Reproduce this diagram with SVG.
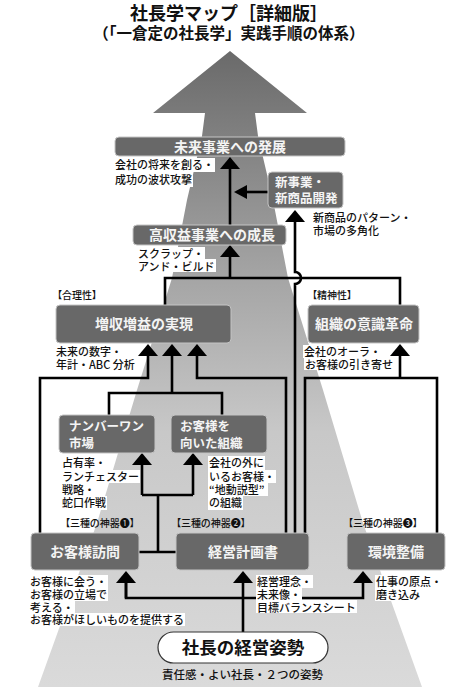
<svg xmlns="http://www.w3.org/2000/svg" width="458" height="700" viewBox="0 0 458 700">
<defs>
<linearGradient id="bg" x1="0" y1="51" x2="0" y2="687" gradientUnits="userSpaceOnUse">
<stop offset="0" stop-color="#6a6a6a"/>
<stop offset="0.35" stop-color="#a4a4a4"/>
<stop offset="0.6" stop-color="#c8c8c8"/>
<stop offset="1" stop-color="#dadada"/>
</linearGradient>
<marker id="ah" viewBox="0 0 12 20" refX="0" refY="10" markerWidth="12" markerHeight="20" markerUnits="userSpaceOnUse" orient="auto">
<path d="M0,0 L12,10 L0,20 Z" fill="#000"/>
</marker>
<marker id="ahs" viewBox="0 0 13 14" refX="0" refY="7" markerWidth="13" markerHeight="14" markerUnits="userSpaceOnUse" orient="auto">
<path d="M0,0 L13,7 L0,14 Z" fill="#000"/>
</marker>
</defs>
<style>
text{font-family:"Noto Sans CJK JP","Noto Sans",sans-serif;fill:#111}
.title{font-size:18px;font-weight:700}
.sub{font-size:15.5px;font-weight:700}
.box rect{fill:#686868;stroke:#c4c4c4;stroke-width:1}
.box text{fill:#f4f4f4;font-size:14px;font-weight:700}
.box text.sm{font-size:12.5px}
.lbl{font-size:11px;font-weight:500}
.brk{font-size:10px;font-weight:500;font-feature-settings:"palt"}
.bgw{fill:#fff}
.con path{fill:none;stroke:#000;stroke-width:2.6}
</style>
<rect width="458" height="700" fill="#fff"/>
<path d="M230,51 L307,113 L255,113 L258,136 L273,200 L288,278 L323,390 L363,523 L422,687 L38,687 L97,523 L137,390 L172,278 L187,200 L202,136 L205,113 L153,113 Z" fill="url(#bg)"/>
<text class="title" x="229" y="20" text-anchor="middle">社長学マップ［詳細版］</text>
<text class="sub" x="229" y="38.5" text-anchor="middle">（「一倉定の社長学」実践手順の体系）</text>
<g id="connectors" class="con">
<path d="M230,225 V169" marker-end="url(#ah)"/>
<path d="M268,192 H247" marker-end="url(#ahs)"/>
<path d="M295,533 V284 A6,6 0 0 0 295,272 V222" marker-end="url(#ah)"/>
<path d="M165,305 V278 H400 V305"/>
<path d="M230,278 V257" marker-end="url(#ah)"/>
<path d="M40,533 V378 H148 V356" marker-end="url(#ah)"/>
<path d="M109,415 V393 H222 V415"/>
<path d="M172,393 V356" marker-end="url(#ah)"/>
<path d="M286,533 V378 H197 V356" marker-end="url(#ah)"/>
<path d="M305,533 V378 H437 V533"/>
<path d="M400,378 V356" marker-end="url(#ah)"/>
<path d="M139,552 H176"/>
<path d="M158,552 V495"/>
<path d="M142,495 H193"/>
<path d="M142,495 V465" marker-end="url(#ah)"/>
<path d="M193,495 V465" marker-end="url(#ah)"/>
<path d="M243,632 V583" marker-end="url(#ah)"/>
<path d="M126,583 V598 H363 V583" marker-end="url(#ah)"/>
<path d="M126,598 V583" marker-end="url(#ah)"/>
</g>
<g id="labels">
<rect class="bgw" x="114" y="158" width="101" height="14"/>
<rect class="bgw" x="114" y="173" width="79" height="14"/>
<text class="lbl" x="115" y="169">会社の将来を創る・</text>
<text class="lbl" x="115" y="184">成功の波状攻撃</text>
<rect class="bgw" x="312" y="211" width="101" height="13"/>
<rect class="bgw" x="312" y="224" width="68" height="13"/>
<text class="lbl" x="313" y="222">新商品のパターン・</text>
<text class="lbl" x="313" y="235">市場の多角化</text>
<rect class="bgw" x="137" y="247" width="68" height="13"/>
<rect class="bgw" x="137" y="259" width="79" height="13"/>
<text class="lbl" x="138" y="258">スクラップ・</text>
<text class="lbl" x="138" y="270.5">アンド・ビルド</text>
<text class="brk" x="57" y="299">【合理性】</text>
<text class="brk" x="312" y="299">【精神性】</text>
<rect class="bgw" x="55" y="345" width="68" height="13"/>
<rect class="bgw" x="55" y="357" width="80" height="13"/>
<text class="lbl" x="56" y="356">未来の数字・</text>
<text class="lbl" x="56" y="368.5">年計・ABC 分析</text>
<rect class="bgw" x="303" y="345" width="79" height="13"/>
<rect class="bgw" x="304" y="357" width="90" height="13"/>
<text class="lbl" x="304" y="356">会社のオーラ・</text>
<text class="lbl" x="305" y="368.5">お客様の引き寄せ</text>
<rect class="bgw" x="61" y="456" width="46" height="14"/>
<rect class="bgw" x="61" y="470" width="79" height="13"/>
<rect class="bgw" x="61" y="483" width="35" height="13"/>
<rect class="bgw" x="61" y="496" width="46" height="14"/>
<text class="lbl" x="62" y="467">占有率・</text>
<text class="lbl" x="62" y="481">ランチェスター</text>
<text class="lbl" x="62" y="494">戦略・</text>
<text class="lbl" x="62" y="507">蛇口作戦</text>
<rect class="bgw" x="208" y="456" width="57" height="14"/>
<rect class="bgw" x="208" y="470" width="68" height="13"/>
<rect class="bgw" x="208" y="483" width="60" height="13"/>
<rect class="bgw" x="208" y="496" width="35" height="14"/>
<text class="lbl" x="209" y="467">会社の外に</text>
<text class="lbl" x="209" y="481">いるお客様・</text>
<text class="lbl" x="209" y="494">“地動説型”</text>
<text class="lbl" x="209" y="507">の組織</text>
<text class="brk" x="65" y="527">【三種の神器❶】</text>
<text class="brk" x="176" y="527">【三種の神器❷】</text>
<text class="brk" x="348" y="527">【三種の神器❸】</text>
<rect class="bgw" x="29" y="575" width="79" height="13"/>
<rect class="bgw" x="29" y="588" width="79" height="13"/>
<rect class="bgw" x="29" y="600" width="46" height="13"/>
<rect class="bgw" x="29" y="613" width="156" height="13"/>
<text class="lbl" x="30" y="586">お客様に会う・</text>
<text class="lbl" x="30" y="599">お客様の立場で</text>
<text class="lbl" x="30" y="611.5">考える・</text>
<text class="lbl" x="30" y="624">お客様がほしいものを提供する</text>
<rect class="bgw" x="256" y="575" width="57" height="13"/>
<rect class="bgw" x="256" y="588" width="46" height="13"/>
<rect class="bgw" x="256" y="600" width="101" height="13"/>
<text class="lbl" x="257" y="586">経営理念・</text>
<text class="lbl" x="257" y="599">未来像・</text>
<text class="lbl" x="257" y="611.5">目標バランスシート</text>
<rect class="bgw" x="375" y="575" width="68" height="13"/>
<rect class="bgw" x="375" y="588" width="46" height="13"/>
<text class="lbl" x="376" y="586">仕事の原点・</text>
<text class="lbl" x="376" y="599">磨き込み</text>
</g>
<g id="n-future" class="box"><rect x="115" y="137" width="230" height="19" rx="4"/><text x="230" y="151.5" text-anchor="middle">未来事業への発展</text></g>
<g id="n-newbiz" class="box"><rect x="268" y="172" width="75" height="36" rx="4"/><text class="sm" x="275" y="187">新事業・</text><text class="sm" x="275" y="203">新商品開発</text></g>
<g id="n-highprofit" class="box"><rect x="133" y="225" width="153" height="20" rx="4"/><text x="212" y="240" text-anchor="middle">高収益事業への成長</text></g>
<g id="n-increase" class="box"><rect x="56" y="305" width="175" height="38" rx="4"/><text x="144" y="329" text-anchor="middle">増収増益の実現</text></g>
<g id="n-org" class="box"><rect x="308" y="305" width="111" height="38" rx="4"/><text x="364" y="329" text-anchor="middle">組織の意識革命</text></g>
<g id="n-number1" class="box"><rect x="59" y="415" width="96" height="38" rx="4"/><text class="sm" x="69" y="431">ナンバーワン</text><text class="sm" x="69" y="447.5">市場</text></g>
<g id="n-custorg" class="box"><rect x="171" y="415" width="96" height="38" rx="4"/><text class="sm" x="180" y="431">お客様を</text><text class="sm" x="180" y="447.5">向いた組織</text></g>
<g id="n-visit" class="box"><rect x="31" y="533" width="108" height="37" rx="4"/><text x="85" y="556.5" text-anchor="middle">お客様訪問</text></g>
<g id="n-plan" class="box"><rect x="176" y="533" width="133" height="37" rx="4"/><text x="243" y="556.5" text-anchor="middle">経営計画書</text></g>
<g id="n-env" class="box"><rect x="347" y="533" width="98" height="37" rx="4"/><text x="396" y="556.5" text-anchor="middle">環境整備</text></g>
<g id="n-president">
<rect x="158" y="632" width="170" height="31" rx="15.5" fill="#fff" stroke="#333" stroke-width="1.2"/>
<text x="243" y="654" text-anchor="middle" font-size="17.5" font-weight="700">社長の経営姿勢</text>
<text x="242.5" y="679" text-anchor="middle" font-size="11.5" font-weight="500">責任感・よい社長・２つの姿勢</text>
</g>
</svg>
